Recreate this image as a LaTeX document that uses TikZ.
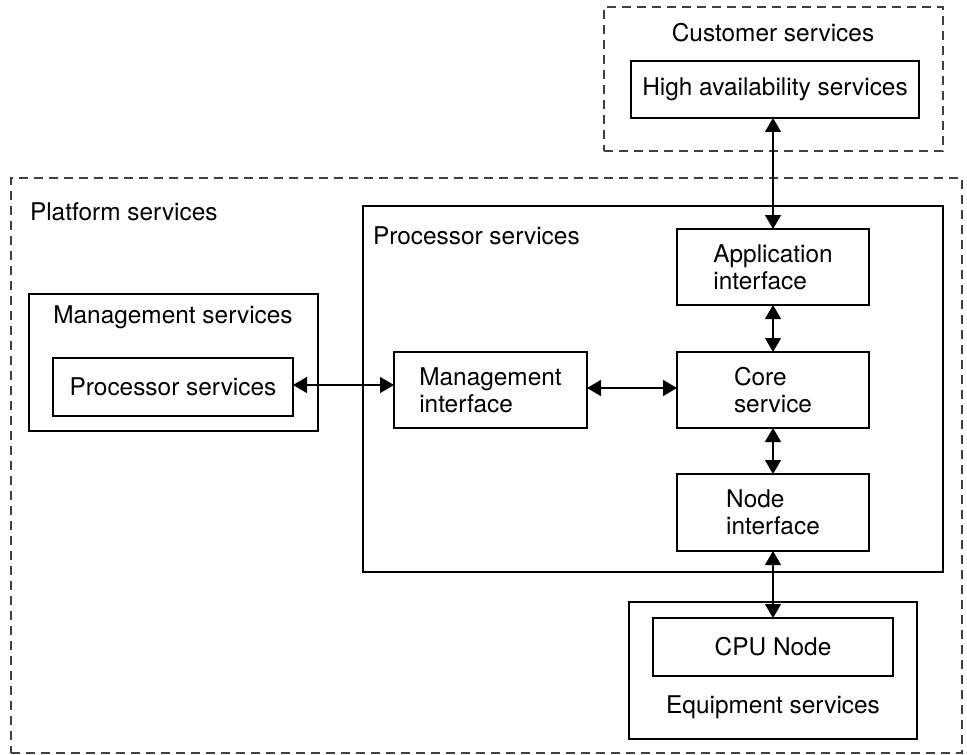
\documentclass[tikz,border=0pt]{standalone}
\usepackage{fontspec}
\setmainfont{TeX Gyre Heros}
\usepackage{tikz}
\usetikzlibrary{arrows.meta}

\begin{document}
\begin{tikzpicture}[x=0.5pt,y=-0.5pt,
	box/.style={draw, line width=0.65pt, inner sep=0pt, outer sep=0pt, align=left},
	group/.style={draw=black!75, line width=0.6pt, dash pattern=on 4.5pt off 3pt, inner sep=0pt, outer sep=0pt},
	txt/.style={inner sep=0pt, outer sep=0pt},
	link/.style={line width=0.6pt, {Triangle[width=8pt,length=7pt]}-{Triangle[width=8pt,length=7pt]}},
	every node/.style={font=\fontsize{12.2}{13.6}\selectfont}]
	\useasboundingbox (0,0) rectangle (967,754);
	%% outer groups
	\node[group, minimum width=169.5pt, minimum height=72pt] (cust) at (773.5,79) {};
	\node[txt] (custlbl) at (773,33) {Customer services};
	\node[group, minimum width=475.5pt, minimum height=287.5pt] (plat) at (486.5,465.5) {};
	\node[txt, anchor=west] (platlbl) at (30,212) {Platform services};
	%% containers
	\node[box, minimum width=290pt, minimum height=183pt] (proc) at (653,389) {};
	\node[txt, anchor=west] (proclbl) at (373,236) {Processor services};
	\node[box, minimum width=144.5pt, minimum height=68.5pt] (mgmt) at (173.5,362.5) {};
	\node[txt] (mgmtlbl) at (173,317) {Management services};
	\node[box, minimum width=144pt, minimum height=68.5pt] (equip) at (773,670.5) {};
	\node[txt] (equiplbl) at (773,707) {Equipment services};
	%% inner boxes
	\node[box, minimum width=144pt, minimum height=28.5pt] (ha) at (775,89.5) {High availability services};
	\node[box, minimum width=120pt, minimum height=29pt] (psvc) at (173,387) {Processor services};
	\node[box, minimum width=96.5pt, minimum height=38pt] (mgmtif) at (490.5,390) {Management\\interface};
	\node[box, minimum width=96pt, minimum height=38pt] (app) at (773,267) {Application\\interface};
	\node[box, minimum width=96pt, minimum height=38pt] (core) at (773,390) {Core\\service};
	\node[box, minimum width=96pt, minimum height=38.5pt] (nodeif) at (773,512.5) {Node\\interface};
	\node[box, minimum width=120pt, minimum height=29pt] (cpu) at (773,647) {CPU Node};
	%% links
	\draw[link] (app.north |- ha.south) -- (app.north);
	\draw[link] (app.south) -- (core.north);
	\draw[link] (core.south) -- (nodeif.north);
	\draw[link] (nodeif.south) -- (cpu.north);
	\draw[link] (psvc.east) ++(0,-2) coordinate (pl) -- (pl -| mgmtif.west);
	\draw[link] (mgmtif.east) ++(0,-2) coordinate (ml) -- (ml -| core.west);
\end{tikzpicture}
\end{document}
